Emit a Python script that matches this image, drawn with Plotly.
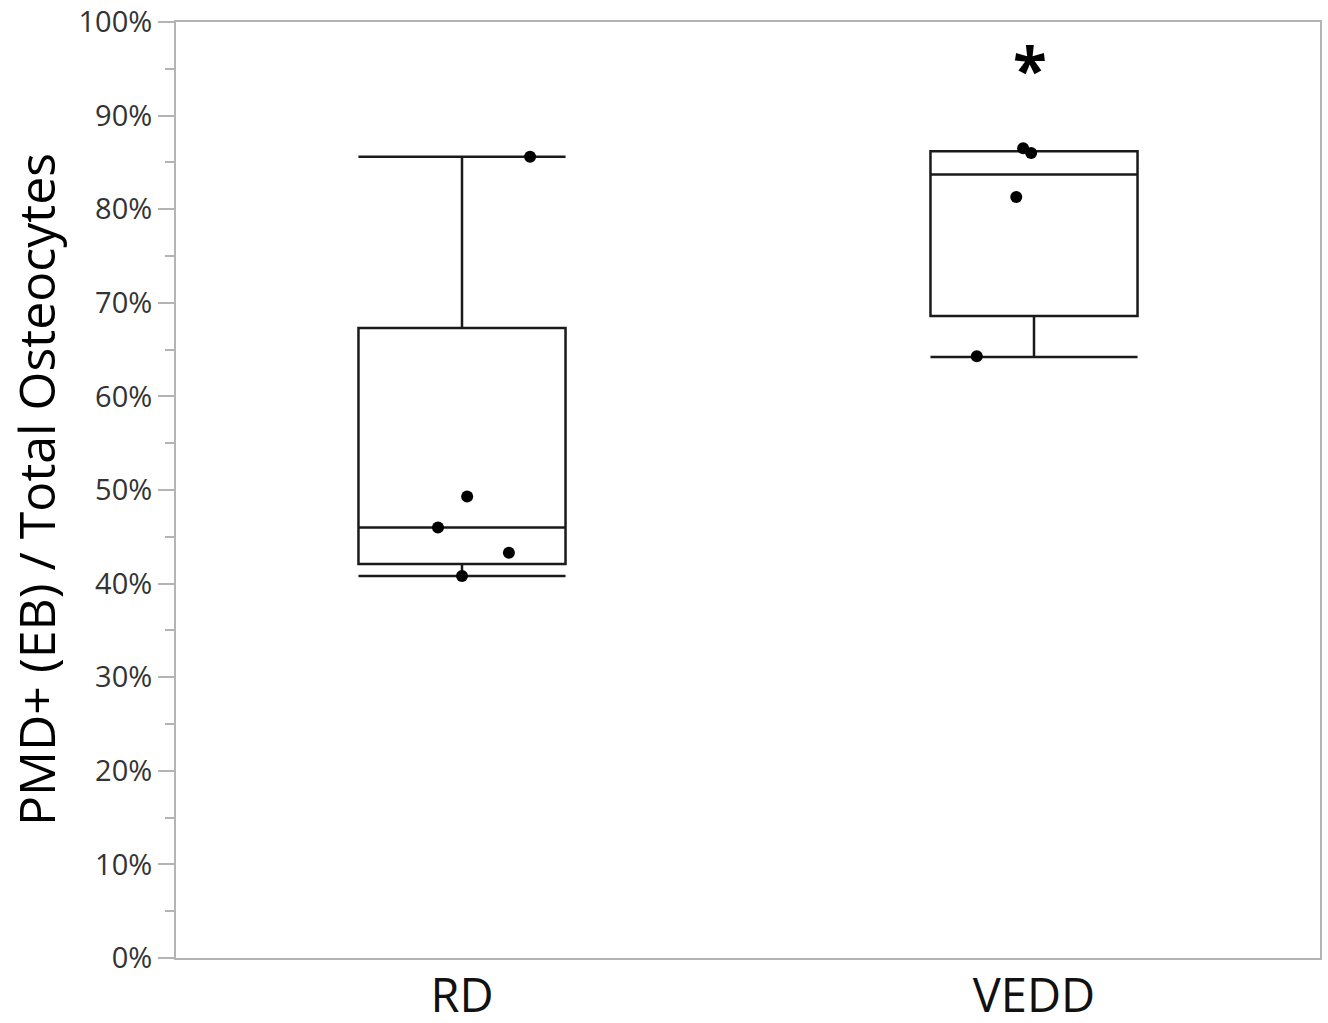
import plotly.graph_objects as go

# ---- data ----
groups = ["RD", "VEDD"]
group_pos = [0, 1]

rd_values = [0.856, 0.493, 0.460, 0.433, 0.408]
rd_offsets = [0.119, 0.009, -0.042, 0.082, 0.0]

vedd_values = [0.865, 0.860, 0.813, 0.643]
vedd_offsets = [-0.019, -0.005, -0.031, -0.100]

box_lowerfence = [0.408, 0.642]
box_q1 = [0.421, 0.686]
box_median = [0.460, 0.837]
box_q3 = [0.673, 0.862]
box_upperfence = [0.856, 0.862]

y_tickvals = [0, 0.1, 0.2, 0.3, 0.4, 0.5, 0.6, 0.7, 0.8, 0.9, 1.0]
y_ticktext = ["0%", "10%", "20%", "30%", "40%", "50%", "60%", "70%", "80%", "90%", "100%"]

signif_group = 1
signif_y = 0.956

FONT = "Open Sans"
LINE = "#1a1a1a"
AXIS = "#b4b4b4"

fig = go.Figure()

fig.add_trace(go.Box(
    x=group_pos,
    q1=box_q1, median=box_median, q3=box_q3,
    lowerfence=box_lowerfence, upperfence=box_upperfence,
    width=0.362, whiskerwidth=1,
    line=dict(color=LINE, width=2.5),
    fillcolor="rgba(0,0,0,0)",
    boxpoints=False,
    showlegend=False,
    hoverinfo="skip",
))

fig.add_trace(go.Scatter(
    x=[group_pos[0] + o for o in rd_offsets], y=rd_values,
    mode="markers", marker=dict(color="black", size=12),
    showlegend=False,
))
fig.add_trace(go.Scatter(
    x=[group_pos[1] + o for o in vedd_offsets], y=vedd_values,
    mode="markers", marker=dict(color="black", size=12),
    showlegend=False,
))

fig.add_annotation(
    x=group_pos[signif_group], y=signif_y, xref="x", yref="y",
    text="<b>*</b>", showarrow=False,
    font=dict(family=FONT, size=62, color="black"),
    xanchor="center", yanchor="middle", yshift=-6, xshift=-4,
)

fig.add_annotation(
    x=0, y=0.5, xref="paper", yref="paper",
    text="PMD+ (EB) / Total Osteocytes", textangle=-90,
    showarrow=False, xanchor="center", yanchor="middle", xshift=-140,
    font=dict(family=FONT, size=50, color="black"),
)

fig.update_layout(
    width=1328, height=1023,
    margin=dict(l=176, r=8, t=22, b=65),
    paper_bgcolor="white", plot_bgcolor="white",
    font=dict(family=FONT),
    xaxis=dict(
        range=[-0.5, 1.5], tickvals=group_pos, ticktext=groups,
        ticks="", showgrid=False, zeroline=False, automargin=False,
        showline=True, linecolor=AXIS, linewidth=2, mirror=True,
        tickfont=dict(family=FONT, size=47, color="#111"),
        ticklabelstandoff=-4,
    ),
    yaxis=dict(
        range=[0, 1], tickvals=y_tickvals, ticktext=y_ticktext,
        ticks="outside", ticklen=16, tickwidth=2, tickcolor=AXIS,
        showgrid=False, zeroline=False, automargin=False,
        showline=True, linecolor=AXIS, linewidth=2, mirror=True,
        tickfont=dict(family=FONT, size=29, color="#333"),
        minor=dict(dtick=0.05, tick0=0, ticks="outside", ticklen=9, tickwidth=2, tickcolor=AXIS, showgrid=False),
    ),
)

fig.write_html("out.html")
